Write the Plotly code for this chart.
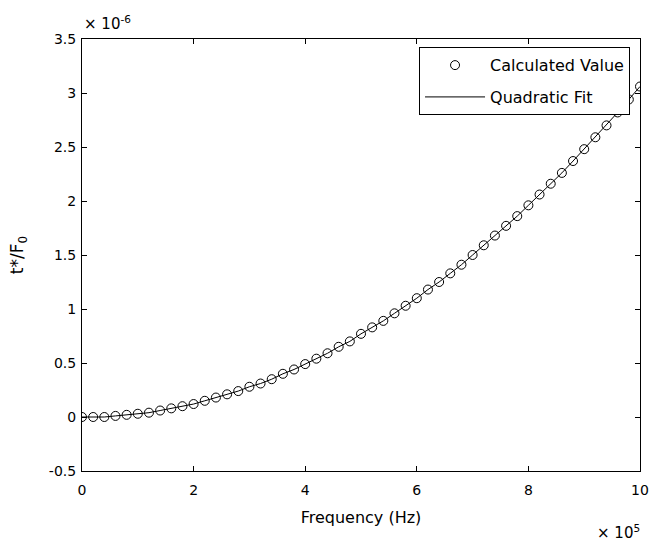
import plotly.graph_objects as go

# Frequency in units of 1e5 Hz
freq_e5 = [0.0, 0.2, 0.4, 0.6, 0.8, 1.0, 1.2, 1.4, 1.6, 1.8,
           2.0, 2.2, 2.4, 2.6, 2.8, 3.0, 3.2, 3.4, 3.6, 3.8,
           4.0, 4.2, 4.4, 4.6, 4.8, 5.0, 5.2, 5.4, 5.6, 5.8,
           6.0, 6.2, 6.4, 6.6, 6.8, 7.0, 7.2, 7.4, 7.6, 7.8,
           8.0, 8.2, 8.4, 8.6, 8.8, 9.0, 9.2, 9.4, 9.6, 9.8, 10.0]

# t*/F0 calculated values in units of 1e-6
calc_e6 = [0.00, 0.00, 0.00, 0.01, 0.02, 0.03, 0.04, 0.06, 0.08, 0.10,
           0.12, 0.15, 0.18, 0.21, 0.24, 0.28, 0.31, 0.35, 0.40, 0.44,
           0.49, 0.54, 0.59, 0.65, 0.70, 0.77, 0.83, 0.89, 0.96, 1.03,
           1.10, 1.18, 1.25, 1.33, 1.41, 1.50, 1.59, 1.68, 1.77, 1.86,
           1.96, 2.06, 2.16, 2.26, 2.37, 2.48, 2.59, 2.70, 2.82, 2.94, 3.06]

# Quadratic fit evaluated at the same frequencies (1e-6)
fit_e6 = [0.00, 0.00, 0.00, 0.01, 0.02, 0.03, 0.04, 0.06, 0.08, 0.10,
          0.12, 0.15, 0.18, 0.21, 0.24, 0.28, 0.31, 0.35, 0.40, 0.44,
          0.49, 0.54, 0.59, 0.65, 0.70, 0.77, 0.83, 0.89, 0.96, 1.03,
          1.10, 1.18, 1.25, 1.33, 1.41, 1.50, 1.59, 1.68, 1.77, 1.86,
          1.96, 2.06, 2.16, 2.26, 2.37, 2.48, 2.59, 2.70, 2.82, 2.94, 3.06]

x_ticks = [0, 2, 4, 6, 8, 10]
x_ticklabels = ["0", "2", "4", "6", "8", "10"]
y_ticks = [-0.5, 0, 0.5, 1, 1.5, 2, 2.5, 3, 3.5]
y_ticklabels = ["-0.5", "0", "0.5", "1", "1.5", "2", "2.5", "3", "3.5"]

FONT = "DejaVu Sans, Verdana, sans-serif"

fig = go.Figure()
fig.add_trace(go.Scatter(
    x=freq_e5, y=calc_e6, mode="markers", name="Calculated Value", legendgroup="a",
    marker=dict(symbol="circle-open", size=9, color="black", line=dict(width=1, color="black")),
))
fig.add_trace(go.Scatter(
    x=freq_e5, y=fit_e6, mode="lines", name="Quadratic Fit", legendgroup="b",
    line=dict(color="black", width=1),
))

axis_common = dict(
    showgrid=False, zeroline=False, showline=True, linecolor="black", linewidth=1,
    mirror="ticks", ticks="inside", ticklen=5, tickcolor="black", tickwidth=1,
    tickfont=dict(family=FONT, size=14, color="black"),
)

fig.update_layout(
    width=649, height=541, autosize=False,
    margin=dict(l=82, r=9, t=39, b=70, autoexpand=False),
    paper_bgcolor="white", plot_bgcolor="white",
    font=dict(family=FONT, size=14, color="black"),
    xaxis=dict(range=[0, 10], tickvals=x_ticks, ticktext=x_ticklabels,
               ticklabelstandoff=6,
               title=dict(text="Frequency (Hz)", font=dict(family=FONT, size=16), standoff=15),
               **axis_common),
    yaxis=dict(range=[-0.5, 3.5], tickvals=y_ticks, ticktext=y_ticklabels,
               ticklabelstandoff=2,
               title=dict(text="t*/F<sub>0</sub>", font=dict(family=FONT, size=17), standoff=20),
               **axis_common),
    legend=dict(x=0.604, y=0.981, xanchor="left", yanchor="top",
                bgcolor="white", bordercolor="black", borderwidth=1,
                font=dict(family=FONT, size=16, color="black"),
                tracegroupgap=8, itemwidth=60),
    showlegend=True,
)

fig.add_annotation(xref="paper", yref="paper", x=0, y=1, xanchor="left", yanchor="bottom",
                   text="× 10<sup>-6</sup>", showarrow=False, yshift=4,
                   font=dict(family=FONT, size=15, color="black"))
fig.add_annotation(xref="paper", yref="paper", x=1, y=0, xanchor="right", yanchor="top",
                   text="× 10<sup>5</sup>", showarrow=False, yshift=-49, xshift=2,
                   font=dict(family=FONT, size=15, color="black"))

fig.write_html("out.html", config={"responsive": False})
